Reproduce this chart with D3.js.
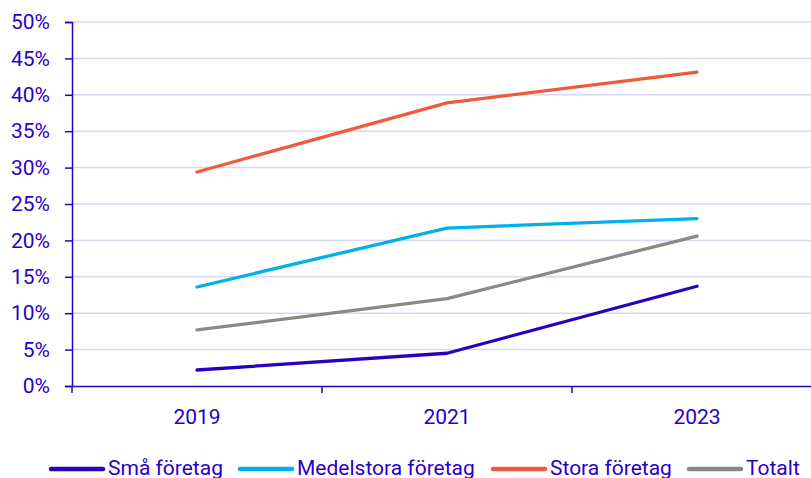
<!DOCTYPE html>
<html><head><meta charset="utf-8">
<script src="https://cdn.jsdelivr.net/npm/d3@7"></script>
<style>body{margin:0;background:#fff;font-family:Roboto,sans-serif;}</style>
</head><body><svg id="c" width="811" height="478"></svg>
<script>
const years = ["2019","2021","2023"];
const seriesNames = ["Små företag","Medelstora företag","Stora företag","Totalt"];
const smaValues = [2.2, 4.5, 13.7];
const medelValues = [13.6, 21.7, 23.0];
const storaValues = [29.4, 38.9, 43.1];
const totaltValues = [7.7, 12.0, 20.6];
const yTicks = [0,5,10,15,20,25,30,35,40,45,50];
const colors = ["#2a00c0","#00b0ec","#f05a3c","#8a8a84"];
const textColor = "#2a00c8";

const svg = d3.select("#c");
const x = d3.scaleBand().domain(years).range([72, 822]);
const y = d3.scaleLinear().domain([0,50]).range([386, 22]);

// gridlines
svg.append("g").selectAll("line").data(yTicks.slice(1)).join("line")
  .attr("x1",72).attr("x2",811).attr("y1",d=>y(d)).attr("y2",d=>y(d))
  .attr("stroke","#d9d8f2").attr("stroke-width",1.5);

// y axis
const ya = svg.append("g").attr("transform","translate(72,0)")
  .call(d3.axisLeft(y).tickValues(yTicks).tickFormat(d=>d+"%").tickSize(7).tickPadding(15));
ya.attr("font-size",null).attr("font-family",null);
ya.select(".domain").attr("stroke",textColor).attr("stroke-width",1.5);
ya.selectAll(".tick line").attr("stroke",textColor).attr("stroke-width",1.5);
ya.selectAll("text").attr("fill",textColor).style("font-size","21px").style("font-family","Roboto");

// x axis
const xa = svg.append("g").attr("transform","translate(0,386)")
  .call(d3.axisBottom(x).tickSize(0).tickPadding(23));
xa.attr("font-size",null).attr("font-family",null);
xa.select(".domain").attr("stroke",textColor).attr("stroke-width",1.5);
xa.selectAll("text").attr("fill",textColor).style("font-size","21px").style("font-family","Roboto");
// boundary ticks
svg.append("g").selectAll("line").data([0,1,2,3]).join("line")
  .attr("x1",d=>x.range()[0]+d*x.bandwidth()).attr("x2",d=>x.range()[0]+d*x.bandwidth())
  .attr("y1",386).attr("y2",393).attr("stroke",textColor).attr("stroke-width",1.5);

const all = [smaValues, medelValues, storaValues, totaltValues];
const line = d3.line().x((d,i)=>x(years[i])+x.bandwidth()/2).y(d=>y(d));
all.forEach((vals,k)=>{
  svg.append("path").attr("d",line(vals)).attr("fill","none")
    .attr("stroke",colors[k]).attr("stroke-width",3.3).attr("stroke-linecap","round").attr("stroke-linejoin","round");
});

// legend
const legX = [50, 239, 492, 688];
const lg = svg.append("g");
seriesNames.forEach((n,k)=>{
  lg.append("line").attr("x1",legX[k]+1).attr("x2",legX[k]+53).attr("y1",469).attr("y2",469)
    .attr("stroke",colors[k]).attr("stroke-width",4.5).attr("stroke-linecap","round");
  lg.append("text").attr("x",legX[k]+58).attr("y",475).text(n)
    .attr("fill",textColor).style("font-size","21px").style("font-family","Roboto");
});
</script></body></html>
